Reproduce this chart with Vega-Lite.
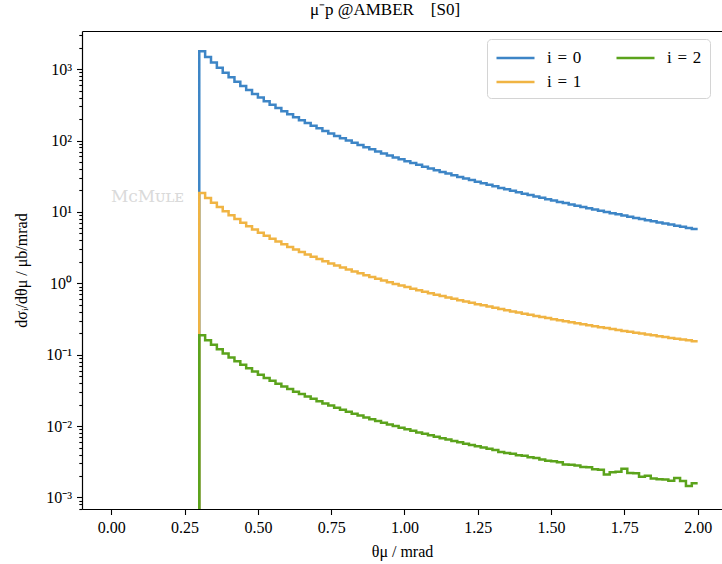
{
  "$schema": "https://vega.github.io/schema/vega-lite/v6.json",
  "autosize": {"type": "none"},
  "padding": {"left": 82, "top": 31, "right": 0, "bottom": 55},
  "width": 640,
  "height": 478,
  "background": "white",
  "title": {
    "text": "μ⁻p @AMBER\u00a0\u00a0\u00a0\u00a0[S0]",
    "font": "Liberation Serif",
    "fontSize": 17,
    "fontWeight": "normal",
    "color": "#000000",
    "anchor": "middle",
    "offset": 8,
    "dx": -17
  },
  "config": {
    "font": "Liberation Serif",
    "view": {"stroke": null},
    "axis": {
      "labelFont": "Liberation Serif",
      "titleFont": "Liberation Serif",
      "labelFontSize": 16,
      "titleFontSize": 16,
      "titleFontWeight": "normal",
      "labelColor": "#000000",
      "titleColor": "#000000",
      "tickColor": "#000000",
      "domainColor": "#000000",
      "domainWidth": 1.2,
      "tickWidth": 1.1,
      "grid": false
    }
  },
  "data": {
    "values": [
      {"series": "i = 0", "theta": 0.28, "value": 1e-9},
      {"series": "i = 0", "theta": 0.3, "value": 1778},
      {"series": "i = 0", "theta": 0.32, "value": 1475},
      {"series": "i = 0", "theta": 0.34, "value": 1236},
      {"series": "i = 0", "theta": 0.36, "value": 1046},
      {"series": "i = 0", "theta": 0.38, "value": 893},
      {"series": "i = 0", "theta": 0.4, "value": 769},
      {"series": "i = 0", "theta": 0.42, "value": 666},
      {"series": "i = 0", "theta": 0.44, "value": 582},
      {"series": "i = 0", "theta": 0.46, "value": 510},
      {"series": "i = 0", "theta": 0.48, "value": 450},
      {"series": "i = 0", "theta": 0.5, "value": 399},
      {"series": "i = 0", "theta": 0.52, "value": 356},
      {"series": "i = 0", "theta": 0.54, "value": 318},
      {"series": "i = 0", "theta": 0.56, "value": 286},
      {"series": "i = 0", "theta": 0.58, "value": 258},
      {"series": "i = 0", "theta": 0.6, "value": 234},
      {"series": "i = 0", "theta": 0.62, "value": 212},
      {"series": "i = 0", "theta": 0.64, "value": 193},
      {"series": "i = 0", "theta": 0.66, "value": 176},
      {"series": "i = 0", "theta": 0.68, "value": 161},
      {"series": "i = 0", "theta": 0.7, "value": 148},
      {"series": "i = 0", "theta": 0.72, "value": 136},
      {"series": "i = 0", "theta": 0.74, "value": 125.6},
      {"series": "i = 0", "theta": 0.76, "value": 116.1},
      {"series": "i = 0", "theta": 0.78, "value": 107.5},
      {"series": "i = 0", "theta": 0.8, "value": 99.7},
      {"series": "i = 0", "theta": 0.82, "value": 92.7},
      {"series": "i = 0", "theta": 0.84, "value": 86.3},
      {"series": "i = 0", "theta": 0.86, "value": 80.5},
      {"series": "i = 0", "theta": 0.88, "value": 75.2},
      {"series": "i = 0", "theta": 0.9, "value": 70.4},
      {"series": "i = 0", "theta": 0.92, "value": 65.9},
      {"series": "i = 0", "theta": 0.94, "value": 61.8},
      {"series": "i = 0", "theta": 0.96, "value": 58.0},
      {"series": "i = 0", "theta": 0.98, "value": 54.5},
      {"series": "i = 0", "theta": 1.0, "value": 51.3},
      {"series": "i = 0", "theta": 1.02, "value": 48.3},
      {"series": "i = 0", "theta": 1.04, "value": 45.6},
      {"series": "i = 0", "theta": 1.06, "value": 43.0},
      {"series": "i = 0", "theta": 1.08, "value": 40.6},
      {"series": "i = 0", "theta": 1.1, "value": 38.4},
      {"series": "i = 0", "theta": 1.12, "value": 36.3},
      {"series": "i = 0", "theta": 1.14, "value": 34.4},
      {"series": "i = 0", "theta": 1.16, "value": 32.6},
      {"series": "i = 0", "theta": 1.18, "value": 30.9},
      {"series": "i = 0", "theta": 1.2, "value": 29.3},
      {"series": "i = 0", "theta": 1.22, "value": 27.9},
      {"series": "i = 0", "theta": 1.24, "value": 26.5},
      {"series": "i = 0", "theta": 1.26, "value": 25.2},
      {"series": "i = 0", "theta": 1.28, "value": 24.0},
      {"series": "i = 0", "theta": 1.3, "value": 22.8},
      {"series": "i = 0", "theta": 1.32, "value": 21.7},
      {"series": "i = 0", "theta": 1.34, "value": 20.7},
      {"series": "i = 0", "theta": 1.36, "value": 19.8},
      {"series": "i = 0", "theta": 1.38, "value": 18.9},
      {"series": "i = 0", "theta": 1.4, "value": 18.0},
      {"series": "i = 0", "theta": 1.42, "value": 17.2},
      {"series": "i = 0", "theta": 1.44, "value": 16.5},
      {"series": "i = 0", "theta": 1.46, "value": 15.8},
      {"series": "i = 0", "theta": 1.48, "value": 15.1},
      {"series": "i = 0", "theta": 1.5, "value": 14.4},
      {"series": "i = 0", "theta": 1.52, "value": 13.8},
      {"series": "i = 0", "theta": 1.54, "value": 13.3},
      {"series": "i = 0", "theta": 1.56, "value": 12.7},
      {"series": "i = 0", "theta": 1.58, "value": 12.2},
      {"series": "i = 0", "theta": 1.6, "value": 11.7},
      {"series": "i = 0", "theta": 1.62, "value": 11.25},
      {"series": "i = 0", "theta": 1.64, "value": 10.8},
      {"series": "i = 0", "theta": 1.66, "value": 10.4},
      {"series": "i = 0", "theta": 1.68, "value": 9.98},
      {"series": "i = 0", "theta": 1.7, "value": 9.6},
      {"series": "i = 0", "theta": 1.72, "value": 9.24},
      {"series": "i = 0", "theta": 1.74, "value": 8.9},
      {"series": "i = 0", "theta": 1.76, "value": 8.56},
      {"series": "i = 0", "theta": 1.78, "value": 8.25},
      {"series": "i = 0", "theta": 1.8, "value": 7.95},
      {"series": "i = 0", "theta": 1.82, "value": 7.66},
      {"series": "i = 0", "theta": 1.84, "value": 7.39},
      {"series": "i = 0", "theta": 1.86, "value": 7.13},
      {"series": "i = 0", "theta": 1.88, "value": 6.87},
      {"series": "i = 0", "theta": 1.9, "value": 6.64},
      {"series": "i = 0", "theta": 1.92, "value": 6.4},
      {"series": "i = 0", "theta": 1.94, "value": 6.19},
      {"series": "i = 0", "theta": 1.96, "value": 5.97},
      {"series": "i = 0", "theta": 1.98, "value": 5.77},
      {"series": "i = 0", "theta": 2.0, "value": 5.77},

      {"series": "i = 1", "theta": 0.28, "value": 1e-9},
      {"series": "i = 1", "theta": 0.3, "value": 18.41},
      {"series": "i = 1", "theta": 0.32, "value": 15.68},
      {"series": "i = 1", "theta": 0.34, "value": 13.48},
      {"series": "i = 1", "theta": 0.36, "value": 11.68},
      {"series": "i = 1", "theta": 0.38, "value": 10.2},
      {"series": "i = 1", "theta": 0.4, "value": 8.97},
      {"series": "i = 1", "theta": 0.42, "value": 7.94},
      {"series": "i = 1", "theta": 0.44, "value": 7.07},
      {"series": "i = 1", "theta": 0.46, "value": 6.32},
      {"series": "i = 1", "theta": 0.48, "value": 5.68},
      {"series": "i = 1", "theta": 0.5, "value": 5.12},
      {"series": "i = 1", "theta": 0.52, "value": 4.64},
      {"series": "i = 1", "theta": 0.54, "value": 4.22},
      {"series": "i = 1", "theta": 0.56, "value": 3.85},
      {"series": "i = 1", "theta": 0.58, "value": 3.52},
      {"series": "i = 1", "theta": 0.6, "value": 3.23},
      {"series": "i = 1", "theta": 0.62, "value": 2.98},
      {"series": "i = 1", "theta": 0.64, "value": 2.75},
      {"series": "i = 1", "theta": 0.66, "value": 2.54},
      {"series": "i = 1", "theta": 0.68, "value": 2.36},
      {"series": "i = 1", "theta": 0.7, "value": 2.19},
      {"series": "i = 1", "theta": 0.72, "value": 2.04},
      {"series": "i = 1", "theta": 0.74, "value": 1.9},
      {"series": "i = 1", "theta": 0.76, "value": 1.776},
      {"series": "i = 1", "theta": 0.78, "value": 1.664},
      {"series": "i = 1", "theta": 0.8, "value": 1.56},
      {"series": "i = 1", "theta": 0.82, "value": 1.465},
      {"series": "i = 1", "theta": 0.84, "value": 1.378},
      {"series": "i = 1", "theta": 0.86, "value": 1.298},
      {"series": "i = 1", "theta": 0.88, "value": 1.224},
      {"series": "i = 1", "theta": 0.9, "value": 1.157},
      {"series": "i = 1", "theta": 0.92, "value": 1.094},
      {"series": "i = 1", "theta": 0.94, "value": 1.036},
      {"series": "i = 1", "theta": 0.96, "value": 0.981},
      {"series": "i = 1", "theta": 0.98, "value": 0.932},
      {"series": "i = 1", "theta": 1.0, "value": 0.885},
      {"series": "i = 1", "theta": 1.02, "value": 0.841},
      {"series": "i = 1", "theta": 1.04, "value": 0.8},
      {"series": "i = 1", "theta": 1.06, "value": 0.763},
      {"series": "i = 1", "theta": 1.08, "value": 0.727},
      {"series": "i = 1", "theta": 1.1, "value": 0.694},
      {"series": "i = 1", "theta": 1.12, "value": 0.663},
      {"series": "i = 1", "theta": 1.14, "value": 0.634},
      {"series": "i = 1", "theta": 1.16, "value": 0.606},
      {"series": "i = 1", "theta": 1.18, "value": 0.581},
      {"series": "i = 1", "theta": 1.2, "value": 0.556},
      {"series": "i = 1", "theta": 1.22, "value": 0.533},
      {"series": "i = 1", "theta": 1.24, "value": 0.511},
      {"series": "i = 1", "theta": 1.26, "value": 0.491},
      {"series": "i = 1", "theta": 1.28, "value": 0.472},
      {"series": "i = 1", "theta": 1.3, "value": 0.453},
      {"series": "i = 1", "theta": 1.32, "value": 0.436},
      {"series": "i = 1", "theta": 1.34, "value": 0.42},
      {"series": "i = 1", "theta": 1.36, "value": 0.404},
      {"series": "i = 1", "theta": 1.38, "value": 0.39},
      {"series": "i = 1", "theta": 1.4, "value": 0.375},
      {"series": "i = 1", "theta": 1.42, "value": 0.362},
      {"series": "i = 1", "theta": 1.44, "value": 0.349},
      {"series": "i = 1", "theta": 1.46, "value": 0.337},
      {"series": "i = 1", "theta": 1.48, "value": 0.326},
      {"series": "i = 1", "theta": 1.5, "value": 0.315},
      {"series": "i = 1", "theta": 1.52, "value": 0.304},
      {"series": "i = 1", "theta": 1.54, "value": 0.294},
      {"series": "i = 1", "theta": 1.56, "value": 0.285},
      {"series": "i = 1", "theta": 1.58, "value": 0.276},
      {"series": "i = 1", "theta": 1.6, "value": 0.267},
      {"series": "i = 1", "theta": 1.62, "value": 0.259},
      {"series": "i = 1", "theta": 1.64, "value": 0.251},
      {"series": "i = 1", "theta": 1.66, "value": 0.243},
      {"series": "i = 1", "theta": 1.68, "value": 0.236},
      {"series": "i = 1", "theta": 1.7, "value": 0.229},
      {"series": "i = 1", "theta": 1.72, "value": 0.222},
      {"series": "i = 1", "theta": 1.74, "value": 0.2156},
      {"series": "i = 1", "theta": 1.76, "value": 0.2091},
      {"series": "i = 1", "theta": 1.78, "value": 0.2032},
      {"series": "i = 1", "theta": 1.8, "value": 0.1975},
      {"series": "i = 1", "theta": 1.82, "value": 0.1919},
      {"series": "i = 1", "theta": 1.84, "value": 0.1866},
      {"series": "i = 1", "theta": 1.86, "value": 0.1816},
      {"series": "i = 1", "theta": 1.88, "value": 0.1767},
      {"series": "i = 1", "theta": 1.9, "value": 0.172},
      {"series": "i = 1", "theta": 1.92, "value": 0.1674},
      {"series": "i = 1", "theta": 1.94, "value": 0.1632},
      {"series": "i = 1", "theta": 1.96, "value": 0.1589},
      {"series": "i = 1", "theta": 1.98, "value": 0.1547},
      {"series": "i = 1", "theta": 2.0, "value": 0.1547},

      {"series": "i = 2", "theta": 0.28, "value": 1e-9},
      {"series": "i = 2", "theta": 0.3, "value": 0.1879},
      {"series": "i = 2", "theta": 0.32, "value": 0.16},
      {"series": "i = 2", "theta": 0.34, "value": 0.1376},
      {"series": "i = 2", "theta": 0.36, "value": 0.1192},
      {"series": "i = 2", "theta": 0.38, "value": 0.1041},
      {"series": "i = 2", "theta": 0.4, "value": 0.0915},
      {"series": "i = 2", "theta": 0.42, "value": 0.081},
      {"series": "i = 2", "theta": 0.44, "value": 0.0721},
      {"series": "i = 2", "theta": 0.46, "value": 0.0645},
      {"series": "i = 2", "theta": 0.48, "value": 0.058},
      {"series": "i = 2", "theta": 0.5, "value": 0.0522},
      {"series": "i = 2", "theta": 0.52, "value": 0.0473},
      {"series": "i = 2", "theta": 0.54, "value": 0.0431},
      {"series": "i = 2", "theta": 0.56, "value": 0.0393},
      {"series": "i = 2", "theta": 0.58, "value": 0.0359},
      {"series": "i = 2", "theta": 0.6, "value": 0.033},
      {"series": "i = 2", "theta": 0.62, "value": 0.0304},
      {"series": "i = 2", "theta": 0.64, "value": 0.0281},
      {"series": "i = 2", "theta": 0.66, "value": 0.0259},
      {"series": "i = 2", "theta": 0.68, "value": 0.0241},
      {"series": "i = 2", "theta": 0.7, "value": 0.0223},
      {"series": "i = 2", "theta": 0.72, "value": 0.0208},
      {"series": "i = 2", "theta": 0.74, "value": 0.0194},
      {"series": "i = 2", "theta": 0.76, "value": 0.01812},
      {"series": "i = 2", "theta": 0.78, "value": 0.01698},
      {"series": "i = 2", "theta": 0.8, "value": 0.01592},
      {"series": "i = 2", "theta": 0.82, "value": 0.01495},
      {"series": "i = 2", "theta": 0.84, "value": 0.01406},
      {"series": "i = 2", "theta": 0.86, "value": 0.01324},
      {"series": "i = 2", "theta": 0.88, "value": 0.01249},
      {"series": "i = 2", "theta": 0.9, "value": 0.01181},
      {"series": "i = 2", "theta": 0.92, "value": 0.01116},
      {"series": "i = 2", "theta": 0.94, "value": 0.01057},
      {"series": "i = 2", "theta": 0.96, "value": 0.01001},
      {"series": "i = 2", "theta": 0.98, "value": 0.00951},
      {"series": "i = 2", "theta": 1.0, "value": 0.00903},
      {"series": "i = 2", "theta": 1.02, "value": 0.00858},
      {"series": "i = 2", "theta": 1.04, "value": 0.00816},
      {"series": "i = 2", "theta": 1.06, "value": 0.00779},
      {"series": "i = 2", "theta": 1.08, "value": 0.00742},
      {"series": "i = 2", "theta": 1.1, "value": 0.00708},
      {"series": "i = 2", "theta": 1.12, "value": 0.00677},
      {"series": "i = 2", "theta": 1.14, "value": 0.00647},
      {"series": "i = 2", "theta": 1.16, "value": 0.00618},
      {"series": "i = 2", "theta": 1.18, "value": 0.00593},
      {"series": "i = 2", "theta": 1.2, "value": 0.00567},
      {"series": "i = 2", "theta": 1.22, "value": 0.00544},
      {"series": "i = 2", "theta": 1.24, "value": 0.00521},
      {"series": "i = 2", "theta": 1.26, "value": 0.00501},
      {"series": "i = 2", "theta": 1.28, "value": 0.00482},
      {"series": "i = 2", "theta": 1.3, "value": 0.00462},
      {"series": "i = 2", "theta": 1.32, "value": 0.00435},
      {"series": "i = 2", "theta": 1.34, "value": 0.0042},
      {"series": "i = 2", "theta": 1.36, "value": 0.0041},
      {"series": "i = 2", "theta": 1.38, "value": 0.0039},
      {"series": "i = 2", "theta": 1.4, "value": 0.00383},
      {"series": "i = 2", "theta": 1.42, "value": 0.00367},
      {"series": "i = 2", "theta": 1.44, "value": 0.00358},
      {"series": "i = 2", "theta": 1.46, "value": 0.0034},
      {"series": "i = 2", "theta": 1.48, "value": 0.00328},
      {"series": "i = 2", "theta": 1.5, "value": 0.00322},
      {"series": "i = 2", "theta": 1.52, "value": 0.00312},
      {"series": "i = 2", "theta": 1.54, "value": 0.0029},
      {"series": "i = 2", "theta": 1.56, "value": 0.00287},
      {"series": "i = 2", "theta": 1.58, "value": 0.0028},
      {"series": "i = 2", "theta": 1.6, "value": 0.00268},
      {"series": "i = 2", "theta": 1.62, "value": 0.00265},
      {"series": "i = 2", "theta": 1.64, "value": 0.00248},
      {"series": "i = 2", "theta": 1.66, "value": 0.00244},
      {"series": "i = 2", "theta": 1.68, "value": 0.0021},
      {"series": "i = 2", "theta": 1.7, "value": 0.00226},
      {"series": "i = 2", "theta": 1.72, "value": 0.00229},
      {"series": "i = 2", "theta": 1.74, "value": 0.00252},
      {"series": "i = 2", "theta": 1.76, "value": 0.0022},
      {"series": "i = 2", "theta": 1.78, "value": 0.00218},
      {"series": "i = 2", "theta": 1.8, "value": 0.00196},
      {"series": "i = 2", "theta": 1.82, "value": 0.00202},
      {"series": "i = 2", "theta": 1.84, "value": 0.00185},
      {"series": "i = 2", "theta": 1.86, "value": 0.0018},
      {"series": "i = 2", "theta": 1.88, "value": 0.00178},
      {"series": "i = 2", "theta": 1.9, "value": 0.00172},
      {"series": "i = 2", "theta": 1.92, "value": 0.00188},
      {"series": "i = 2", "theta": 1.94, "value": 0.0017},
      {"series": "i = 2", "theta": 1.96, "value": 0.00145},
      {"series": "i = 2", "theta": 1.98, "value": 0.00158},
      {"series": "i = 2", "theta": 2.0, "value": 0.00158}
    ]
  },
  "resolve": {"axis": {"x": "independent"}},
  "layer": [
    {
      "mark": {"type": "line", "interpolate": "step-after", "strokeWidth": 2.5, "clip": true},
      "encoding": {
        "x": {
          "field": "theta",
          "type": "quantitative",
          "scale": {"domain": [-0.1, 2.083], "nice": false, "zero": false},
          "axis": {
            "orient": "bottom",
            "values": [0, 0.25, 0.5, 0.75, 1.0, 1.25, 1.5, 1.75, 2.0],
            "format": ".2f",
            "tickSize": 5.5,
            "labelPadding": 5,
            "labelFlush": false,
            "title": "θμ / mrad",
            "titlePadding": 8
          }
        },
        "y": {
          "field": "value",
          "type": "quantitative",
          "scale": {"type": "log", "domain": [0.00069, 3420], "nice": false},
          "axis": {
            "orient": "left",
            "values": [0.0007, 0.0008, 0.0009,
                       0.001, 0.002, 0.003, 0.004, 0.005, 0.006, 0.007, 0.008, 0.009,
                       0.01, 0.02, 0.03, 0.04, 0.05, 0.06, 0.07, 0.08, 0.09,
                       0.1, 0.2, 0.3, 0.4, 0.5, 0.6, 0.7, 0.8, 0.9,
                       1, 2, 3, 4, 5, 6, 7, 8, 9,
                       10, 20, 30, 40, 50, 60, 70, 80, 90,
                       100, 200, 300, 400, 500, 600, 700, 800, 900,
                       1000, 2000, 3000],
            "labelExpr": "abs(log(datum.value)/LN10 - round(log(datum.value)/LN10)) < 0.001 ? ['10⁻³','10⁻²','10⁻¹','10⁰','10¹','10²','10³'][round(log(datum.value)/LN10) + 3] : ''",
            "tickSize": {"condition": {"test": "abs(log(datum.value)/LN10 - round(log(datum.value)/LN10)) < 0.001", "value": 5.5}, "value": 3.2},
            "labelOverlap": false,
            "labelFlush": false,
            "labelPadding": 5,
            "title": "dσᵢ/dθμ / μb/mrad",
            "titlePadding": 16
          }
        },
        "color": {
          "field": "series",
          "type": "nominal",
          "scale": {"domain": ["i = 0", "i = 1", "i = 2"], "range": ["#3d85c6", "#f0b443", "#5ba31c"]},
          "legend": {
            "orient": "none",
            "legendX": 405,
            "legendY": 8,
            "title": null,
            "columns": 2,
            "symbolType": "M-1,0H3",
            "symbolSize": 361,
            "symbolStrokeWidth": 2.5,
            "labelFont": "Liberation Serif",
            "labelFontSize": 17,
            "labelColor": "#000000",
            "labelOffset": 30,
            "labelExpr": "replace(datum.label, / /g, '\u2004')",
            "columnPadding": 29,
            "rowPadding": 5,
            "padding": 8,
            "fillColor": "white",
            "strokeColor": "#d4d4d4",
            "cornerRadius": 4
          }
        }
      }
    },
    {
      "data": {"values": [{"label": "MᴄMᴜʟᴇ"}]},
      "mark": {"type": "text", "font": "DejaVu Serif", "fontSize": 17, "color": "#dadada", "align": "center", "baseline": "middle"},
      "encoding": {
        "x": {
          "datum": 0.123,
          "type": "quantitative",
          "axis": {"orient": "top", "labels": false, "ticks": false, "title": null, "domain": true, "grid": false}
        },
        "y": {"datum": 16, "type": "quantitative"},
        "text": {"field": "label"}
      }
    }
  ]
}
